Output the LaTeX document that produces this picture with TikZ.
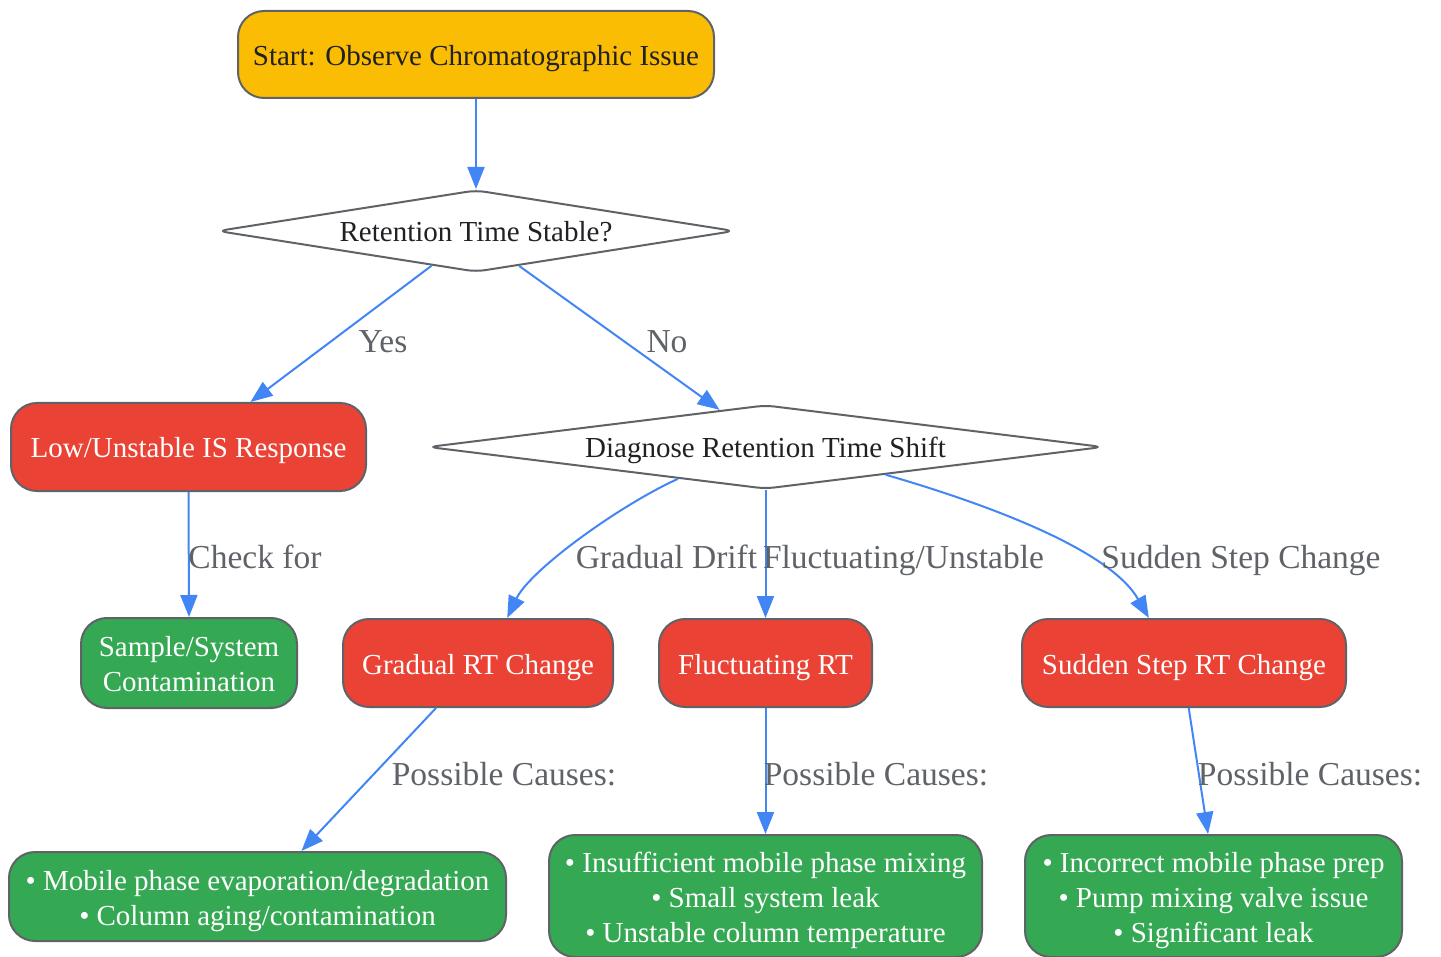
\documentclass[tikz,border=0pt]{standalone}
\usepackage{fontspec}
\setmainfont{Liberation Serif}
\usetikzlibrary{shapes.geometric,arrows.meta}
\definecolor{cyellow}{HTML}{FBBC04}
\definecolor{cred}{HTML}{EA4335}
\definecolor{cgreen}{HTML}{34A853}
\definecolor{cborder}{HTML}{5F6368}
\definecolor{cedge}{HTML}{4285F4}
\definecolor{ctext}{HTML}{202124}
\definecolor{clabel}{HTML}{5F6368}
\newcommand{\firststrut}{\rule{0pt}{29pt}}
\tikzset{
  struts/.style={execute at begin node={\rule{0pt}{29pt}}, execute at end node={\rule[-7pt]{0pt}{7pt}}},
  box/.style={draw=cborder, line width=2pt, rounded corners=26pt, inner sep=0pt,
    align=center, font=\fontsize{29}{35}\selectfont, struts},
  startbox/.style={box, fill=cyellow, text=ctext},
  redbox/.style={box, fill=cred, text=white},
  greenbox/.style={box, fill=cgreen, text=white},
  decision/.style={draw=cborder, line width=2pt, diamond, rounded corners=9pt, fill=white,
    inner sep=0pt, text=ctext, font=\fontsize{29}{35}\selectfont, struts},
  conn/.style={draw=cedge, line width=2pt, -{Triangle[length=22pt,width=17pt]}},
  lbl/.style={text=clabel, font=\fontsize{33.5}{40}\selectfont, anchor=base, inner sep=0pt}
}
\begin{document}
\begin{tikzpicture}[x=1pt,y=-1pt]
\useasboundingbox (0,0) rectangle (1441,957);
% nodes
\node[startbox, minimum width=476pt, minimum height=87pt] (start) at (476,54.5) {Start: Observe Chromatographic Issue};
\node[decision, aspect=6.3, minimum width=517pt, minimum height=82pt] (d1) at (476,231) {Retention Time Stable?};
\node[redbox, minimum width=355pt, minimum height=88pt] (low) at (188.5,447) {Low/Unstable IS Response};
\node[decision, aspect=8, minimum width=675pt, minimum height=84pt] (d2) at (765.5,447) {Diagnose Retention Time Shift};
\node[greenbox, minimum width=216pt, minimum height=90pt] (sample) at (189,663) {\firststrut Sample/System\\Contamination};
\node[redbox, minimum width=270pt, minimum height=88pt] (grad) at (478,663) {Gradual RT Change};
\node[redbox, minimum width=213pt, minimum height=88pt] (fluct) at (765.5,663) {Fluctuating RT};
\node[redbox, minimum width=324pt, minimum height=88pt] (sudden) at (1184,663) {Sudden Step RT Change};
\node[greenbox, minimum width=497pt, minimum height=89pt] (mobile) at (257.5,896.5) {\firststrut• Mobile phase evaporation/degradation\\• Column aging/contamination};
\node[greenbox, minimum width=433pt, minimum height=122pt] (insuf) at (765.5,896) {\firststrut• Insufficient mobile phase mixing\\• Small system leak\\• Unstable column temperature};
\node[greenbox, minimum width=377pt, minimum height=122pt] (incor) at (1213.5,896) {\firststrut• Incorrect mobile phase prep\\• Pump mixing valve issue\\• Significant leak};
% connectors
\draw[conn] (start.south) -- (d1.north);
\draw[conn] (d1.218.8) -- (low.36.8);
\draw[conn] (d1.321.2) -- (d2.141.6);
\draw[conn] (low.south) -- (sample.north);
\draw[conn] (d2.200) .. controls (620,505) and (530,570) .. (grad.57.8);
\draw[conn] (d2.south) -- (fluct.north);
\draw[conn] (d2.347.6) .. controls (990,505) and (1110,550) .. (sudden.128.8);
\draw[conn] (grad.227.7) -- (mobile.46.3);
\draw[conn] (fluct.south) -- (insuf.north);
\draw[conn] (sudden.276.5) -- (incor.95.9);
% labels
\node[lbl] (lyes) at (383,353) {Yes};
\node[lbl] (lno) at (667,353) {No};
\node[lbl] (lcheck) at (255,568) {Check for};
\node[lbl] (lgrad) at (666.5,568) {Gradual Drift};
\node[lbl] (lfluct) at (903.5,568) {Fluctuating/Unstable};
\node[lbl] (lsudden) at (1241,568) {Sudden Step Change};
\node[lbl] (lpc1) at (504,785) {Possible Causes:};
\node[lbl] (lpc2) at (876,785) {Possible Causes:};
\node[lbl] (lpc3) at (1310,785) {Possible Causes:};
\end{tikzpicture}
\end{document}
